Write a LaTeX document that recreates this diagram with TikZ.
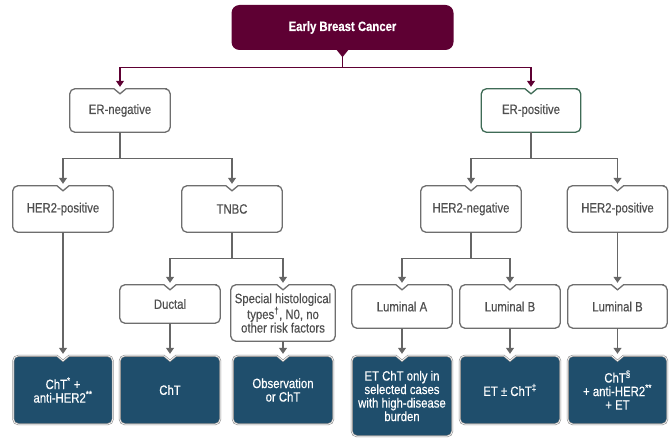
\documentclass[tikz,border=0pt]{standalone}
\usepackage{fontspec}
\setmainfont{Liberation Sans}[FakeStretch=0.84,FakeBold=0.35]
\usetikzlibrary{arrows.meta,calc,backgrounds}
\definecolor{Wine}{HTML}{5E0033}
\definecolor{Navy}{HTML}{1F4E6C}
\definecolor{Frame}{HTML}{6E6E6E}
\definecolor{Pine}{HTML}{3F6B56}
\definecolor{Ink}{HTML}{4F4F4F}
\definecolor{Wire}{HTML}{666666}

% rounded box with a V notch at the top centre
\newcommand{\notchbox}[2]{%
  \draw[#1] ($(#2.north)+(0,-5)$) -- ($(#2.north)+(-6,0)$) -- ($(#2.north west)+(8,0)$)
    [rounded corners=5pt] -- (#2.north west) -- (#2.south west) -- (#2.south east)
    -- (#2.north east) -- ($(#2.north east)+(-8,0)$)
    [sharp corners] -- ($(#2.north)+(6,0)$) -- cycle;}

\begin{document}
\begin{tikzpicture}[x=1pt,y=1pt,
    lbl/.style={font=\fontsize{13.5}{13.5}\selectfont,align=center,inner sep=0pt},
    wbox/.style={lbl,text=Ink,minimum width=100pt,minimum height=46pt},
    dbox/.style={lbl,text=white,minimum width=100pt,minimum height=68pt},
    outline/.style={draw=Frame,line width=1.3pt,fill=white},
    darkfill/.style={fill=Navy,draw=Frame!80,double=white,double distance=0.7pt,line width=0.6pt},
    link/.style={draw=Wire,line width=1.2pt},
    arrowhd/.style={-{Triangle[width=8pt,length=6pt]},shorten >=2pt}]
  \useasboundingbox (0,0) rectangle (671,437);

  % top of the tree
  \node[lbl,font=\fontsize{13.5}{13.5}\selectfont\bfseries,text=white,fill=Wine,rounded corners=8pt,
        minimum width=222pt,minimum height=45pt] (ebc) at (342.5,409.5) {Early Breast Cancer};
  \fill[Wine] ($(ebc.south)+(-6,0.5)$) -- ($(ebc.south)+(6,0.5)$) -- ($(ebc.south)+(0,-7)$) coordinate (ebc-tip) -- cycle;

  \node[wbox,minimum height=43pt] (erneg) at (120,326.5) {ER-negative};
  \node[wbox,minimum width=99pt,minimum height=43pt] (erpos) at (531,326.5) {ER-positive};

  \node[wbox] (herpl) at (63,228) {HER2-positive};
  \node[wbox] (tnbc) at (232,228) {TNBC};
  \node[wbox] (herneg) at (471,228) {HER2-negative};
  \node[wbox] (herpr) at (617.5,228) {HER2-positive};

  \node[wbox,minimum height=38pt] (ductal) at (170,133) {Ductal};
  \node[wbox,minimum width=104pt,minimum height=56pt] (special) at (283,124)
       {Special histological\\types\textsuperscript{†}, N0, no\\other risk factors};
  \node[wbox,minimum height=43pt] (luma) at (402,130.5) {Luminal A};
  \node[wbox,minimum height=43pt] (lumb) at (510,130.5) {Luminal B};
  \node[wbox,minimum width=99pt,minimum height=43pt] (lumbr) at (617.5,130.5) {Luminal B};

  \node[dbox,minimum width=99pt] (chtanti) at (63,47) {ChT\textsuperscript{*} +\\anti-HER2\textsuperscript{**}};
  \node[dbox] (cht) at (170,47) {ChT};
  \node[dbox] (obs) at (283,47) {Observation\\or ChT};
  \node[dbox,minimum height=80pt] (etcht) at (402,41)
       {ET ChT only in\\selected cases\\with high-disease\\burden};
  \node[dbox] (etpm) at (510,47) {ET ± ChT\textsuperscript{‡}};
  \node[dbox,minimum width=99pt] (chtsec) at (617.5,47) {ChT\textsuperscript{§}\\+ anti-HER2\textsuperscript{**}\\+ ET};

  \begin{scope}[on background layer]
    \foreach \n in {erneg,herpl,tnbc,herneg,herpr,ductal,special,luma,lumb,lumbr}
      \notchbox{outline}{\n};
    \notchbox{outline,draw=Pine}{erpos}
    \foreach \n in {chtanti,cht,obs,etcht,etpm,chtsec}
      \notchbox{darkfill}{\n};
  \end{scope}

  % connectors
  \draw[link,draw=Wine] (ebc-tip) -- ++(0,-10) coordinate (ebc-s);
  \draw[link,draw=Wine,arrowhd,-{Triangle[width=8pt,length=6pt,fill=Wine]}] (ebc-s) -| (erneg.north);
  \draw[link,draw=Wine,arrowhd,-{Triangle[width=8pt,length=6pt,fill=Wine]}] (ebc-s) -| (erpos.north);
  \foreach \p/\a/\b in {erneg/herpl/tnbc,erpos/herneg/herpr,tnbc/ductal/special,herneg/luma/lumb}{
    \draw[link] (\p.south) -- ++(0,-26) coordinate (\p-s);
    \draw[link,arrowhd] (\p-s) -| (\a.north);
    \draw[link,arrowhd] (\p-s) -| (\b.north);
  }
  \foreach \a/\b in {herpl/chtanti,ductal/cht,special/obs,luma/etcht,lumb/etpm,herpr/lumbr,lumbr/chtsec}
    \draw[link,arrowhd] (\a.south) -- (\b.north);
\end{tikzpicture}
\end{document}
